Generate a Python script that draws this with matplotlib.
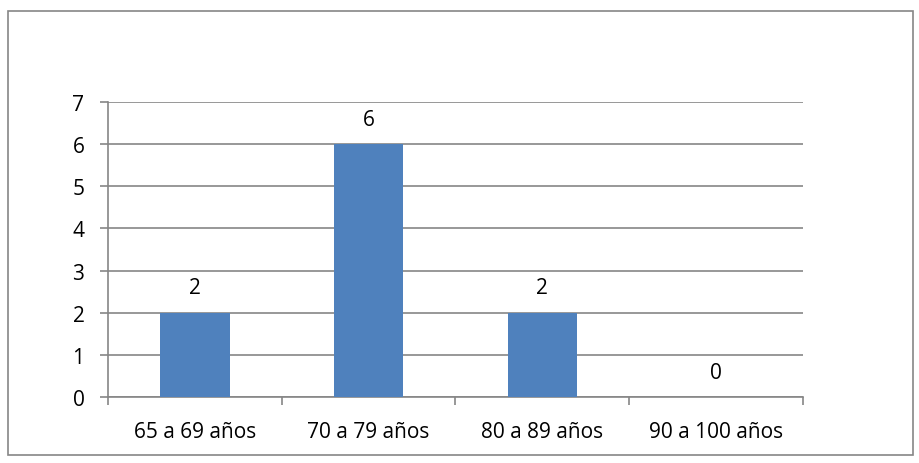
import matplotlib.pyplot as plt
from matplotlib.patches import Rectangle

categories = ["65 a 69 años", "70 a 79 años", "80 a 89 años", "90 a 100 años"]
values = [2, 6, 2, 0]
y_ticks = [0, 1, 2, 3, 4, 5, 6, 7]

plt.rcParams['font.family'] = ['Open Sans', 'DejaVu Sans']
grey = '#868686'
fs = 15

fig = plt.figure(figsize=(9.2, 4.64), dpi=100)
ax = fig.add_axes([108 / 920, 1 - 398 / 464, 695 / 920, 295 / 464])

x = range(len(categories))
bars = ax.bar(x, values, width=0.4, color='#4F81BD', zorder=3)
for b, v in zip(bars, values):
    ax.annotate(str(v), (b.get_x() + b.get_width() / 2, v), xytext=(0, 14),
                textcoords='offset points', ha='center', va='baseline', fontsize=fs)

ax.set_xlim(-0.5, len(categories) - 0.5)
ax.set_ylim(0, 7)
ax.set_yticks(y_ticks)
ax.set_xticks(x)
ax.set_xticklabels(categories)
ax.set_xticks([i + 0.5 for i in range(-1, len(categories))], minor=True)
ax.tick_params(axis='x', which='major', length=0, pad=17, labelsize=fs)
ax.tick_params(axis='x', which='minor', length=6, color=grey, width=1.2)
ax.tick_params(axis='y', length=6, color=grey, width=1.2, pad=11, labelsize=fs)
ax.grid(axis='y', color=grey, linewidth=1.2, zorder=0)
for s in ['top', 'right']:
    ax.spines[s].set_visible(False)
for s in ['left', 'bottom']:
    ax.spines[s].set_color(grey)
    ax.spines[s].set_linewidth(1.2)

fig.patches.append(Rectangle((8 / 920, 8 / 464), 905 / 920, 444 / 464, transform=fig.transFigure,
                             fill=False, edgecolor=grey, linewidth=1.2))

fig.savefig('out.png', dpi=100)
